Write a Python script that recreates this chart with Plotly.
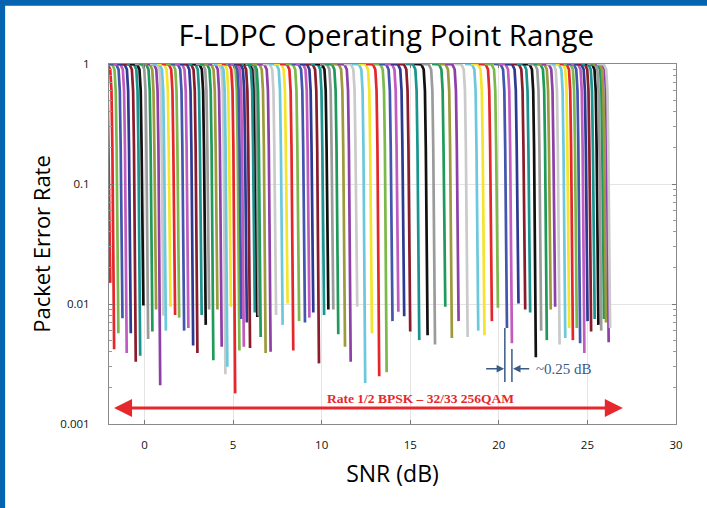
import plotly.graph_objects as go

# SNR (dB) where each waterfall curve reaches its lowest plotted point
snr_db = [
    -1.93,
    -1.71, -1.47, -1.24, -1.00, -0.77, -0.49, -0.24, -0.06, 0.21, 0.45, 0.66, 0.89, 1.07, 1.21, 1.47,
    1.73, 1.96, 2.24, 2.48, 2.75, 2.99, 3.23, 3.46, 3.65, 3.89, 4.12, 4.36, 4.57, 4.68, 4.88,
    5.12, 5.36, 5.47, 5.61, 5.78, 5.96, 6.23, 6.37, 6.45, 6.56, 6.84, 7.12, 7.43, 7.80, 8.08,
    8.40, 8.73, 9.06, 9.31, 9.53, 9.85, 10.14, 10.38, 10.66, 10.94, 11.32, 11.64, 12.01, 12.46, 12.84,
    13.25, 13.67, 14.00, 14.33, 14.66, 15.00, 15.51, 15.98, 16.40, 16.98, 17.35, 17.73, 18.24, 18.84, 19.19,
    19.61, 19.95, 20.46, 20.74, 21.11, 21.49, 21.77, 22.09, 22.39, 22.71, 22.93, 23.18, 23.43, 23.75, 23.97,
    24.18, 24.40, 24.59, 24.83, 25.01, 25.21, 25.41, 25.62, 25.78, 25.94, 26.05, 26.20, 26.28,
]
# lowest packet error rate reached by each curve
per_end = [
    0.015,
    0.0042, 0.0057, 0.0076, 0.0039, 0.0057, 0.0033, 0.0037, 0.0097, 0.0051, 0.0059, 0.009, 0.0021, 0.008, 0.006, 0.0095,
    0.0081, 0.0077, 0.006, 0.0063, 0.0045, 0.0039, 0.0081, 0.0067, 0.009, 0.0034, 0.009, 0.0044, 0.0026, 0.003, 0.0095,
    0.0018, 0.0041, 0.0075, 0.0044, 0.007, 0.0043, 0.0085, 0.0078, 0.008, 0.0053, 0.0039, 0.004, 0.0081, 0.0067, 0.0101,
    0.0041, 0.0072, 0.007, 0.0077, 0.0085, 0.0032, 0.0081, 0.009, 0.009, 0.0056, 0.0044, 0.0033, 0.0095, 0.0022, 0.0057,
    0.0025, 0.0027, 0.0072, 0.0086, 0.0079, 0.0059, 0.005, 0.0055, 0.0046, 0.0095, 0.0052, 0.0072, 0.0053, 0.006, 0.0055,
    0.0072, 0.0093, 0.0063, 0.0047, 0.0101, 0.009, 0.0085, 0.0036, 0.006, 0.005, 0.009, 0.0095, 0.0046, 0.0052, 0.0063,
    0.005, 0.0063, 0.0047, 0.0039, 0.0072, 0.0059, 0.0075, 0.0067, 0.006, 0.0075, 0.007, 0.0048, 0.0063,
]
# waterfall shape template: dB offset from the end point and PER at that offset
shape_offset_db = [-0.75, -0.35, -0.22, -0.15, -0.10, -0.05]
shape_per = [1.0, 0.99, 0.9, 0.6, 0.2, 0.03]

palette = ['#e5262b', '#7cb84a', '#4356ad', '#c25bbf', '#2d3a92', '#8a1c2c', '#19948f',
           '#111111', '#9b9b9b', '#1f9a5b', '#9c9a3c', '#8e3fa8', '#cacaca', '#6cc8dc', '#f4e42c']
colors = ['#e5262b'] + [palette[i % 15] for i in range(len(snr_db) - 1)]

x_ticks = [0, 5, 10, 15, 20, 25, 30]
y_ticks = [0.001, 0.01, 0.1, 1]
y_tick_text = ['0.001', '0.01', '0.1', '1']
y_minor_ticks = [m * d for d in (0.001, 0.01, 0.1) for m in range(2, 10)]

fig = go.Figure()
for xb, pe, c in zip(snr_db, per_end, colors):
    xs = [xb + o for o in shape_offset_db] + [xb]
    ys = list(shape_per) + [pe]
    fig.add_trace(go.Scatter(x=xs, y=ys, mode='lines', line=dict(color=c, width=2.7),
                             showlegend=False, hoverinfo='skip'))

axis_common = dict(showline=True, linecolor='#8a8a8a', linewidth=1, mirror='allticks',
                   ticks='inside', ticklen=4, tickcolor='#777', showgrid=True,
                   gridcolor='#e4e4e4', zeroline=False)

fig.update_xaxes(range=[-2, 30], tickvals=x_ticks, ticklabelstandoff=10,
                 tickfont=dict(family='Open Sans', size=11.5, color='#111'),
                 title=dict(text='SNR (dB)', font=dict(family='Open Sans', size=23, color='#000'), standoff=15),
                 **axis_common)
fig.update_yaxes(type='log', range=[-3, 0], tickvals=y_ticks, ticktext=y_tick_text,
                 ticklabelstandoff=16,
                 tickfont=dict(family='Open Sans', size=11.5, color='#111'),
                 minor=dict(ticks='inside', ticklen=3, tickcolor='#999', showgrid=False,
                            tickmode='array', tickvals=y_minor_ticks),
                 title=dict(text='Packet Error Rate', font=dict(family='Open Sans', size=22, color='#000'), standoff=3),
                 **axis_common)

red = '#e5282d'
steel = '#3a5a85'
annotations = [
    dict(x=27.0, y=-2.867, ax=-1.8, ay=-2.867, xref='x', yref='y', axref='x', ayref='y',
         text='', showarrow=True, arrowhead=2, arrowside='end+start', arrowsize=1.2,
         arrowwidth=3, arrowcolor=red),
    dict(x=15.6, y=-2.79, xref='x', yref='y', text='<b>Rate 1/2 BPSK – 32/33 256QAM</b>',
         showarrow=False, font=dict(family='Liberation Serif', size=13.5, color=red)),
    dict(x=20.30, y=-2.54, ax=19.2, ay=-2.54, xref='x', yref='y', axref='x', ayref='y',
         text='', showarrow=True, arrowhead=2, arrowsize=1, arrowwidth=1.5, arrowcolor=steel),
    dict(x=20.80, y=-2.54, ax=21.8, ay=-2.54, xref='x', yref='y', axref='x', ayref='y',
         text='', showarrow=True, arrowhead=2, arrowsize=1, arrowwidth=1.5, arrowcolor=steel),
    dict(x=22.0, y=-2.54, xref='x', yref='y', text='~0.25 dB', xanchor='left',
         showarrow=False, font=dict(family='Liberation Serif', size=15, color=steel)),
]

shapes = [
    dict(type='line', xref='x', yref='y', x0=20.34, x1=20.34, y0=10 ** -2.2, y1=10 ** -2.65,
         line=dict(color=steel, width=1.5)),
    dict(type='line', xref='x', yref='y', x0=20.74, x1=20.74, y0=10 ** -2.375, y1=10 ** -2.65,
         line=dict(color=steel, width=1.5)),
    # blue frame of the slide
    dict(type='rect', xref='paper', yref='paper', x0=-0.25, x1=-0.1832, y0=-0.3, y1=1.3,
         fillcolor='#0563b0', line=dict(width=0), layer='above'),
    dict(type='rect', xref='paper', yref='paper', x0=-0.25, x1=1.1, y0=1.162, y1=1.3,
         fillcolor='#0563b0', line=dict(width=0), layer='above'),
]

fig.update_layout(
    width=707, height=508,
    margin=dict(l=109, r=31, t=64, b=84),
    paper_bgcolor='white', plot_bgcolor='white',
    title=dict(text='F-LDPC Operating Point Range', x=0.489, xanchor='center', xref='paper',
               y=0.93, yanchor='middle', font=dict(family='Open Sans', size=29.5, color='#000')),
    annotations=annotations, shapes=shapes,
)

fig.write_html('out.html', config={'displayModeBar': False},
               post_script="document.body.style.margin='0';document.body.style.overflow='hidden';")
